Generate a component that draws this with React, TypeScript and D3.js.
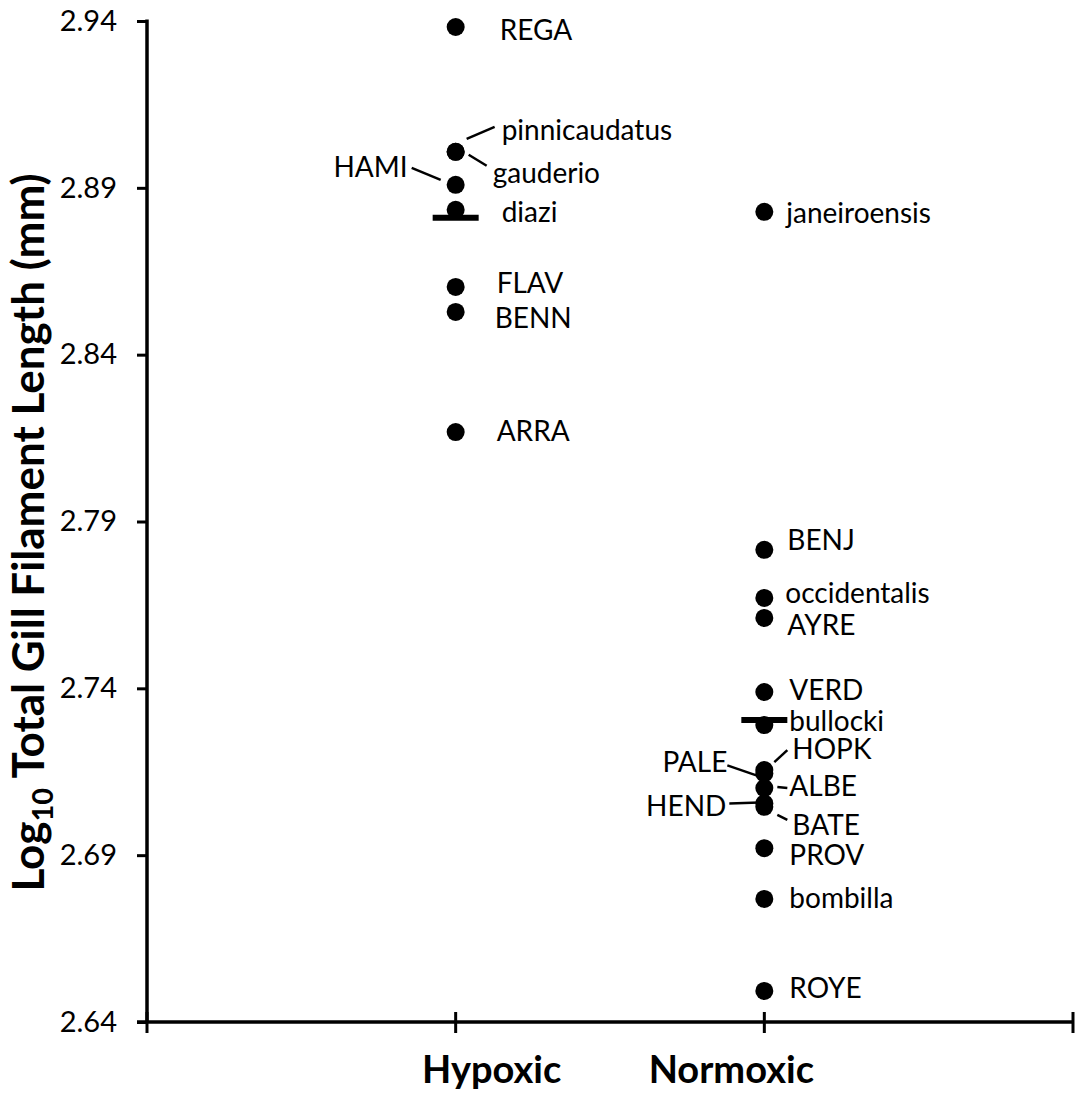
import { useEffect, useRef } from 'react';
import * as d3 from 'd3';

const groups = ['Hypoxic', 'Normoxic'];
const yTicks = [2.64, 2.69, 2.74, 2.79, 2.84, 2.89, 2.94];

const hypoxicNames = ['REGA', 'pinnicaudatus', 'gauderio', 'HAMI', 'diazi', 'FLAV', 'BENN', 'ARRA'];
const hypoxicValues = [2.9382, 2.9008, 2.9008, 2.8909, 2.8834, 2.8603, 2.8528, 2.8168];

const normoxicNames = ['janeiroensis', 'BENJ', 'occidentalis', 'AYRE', 'VERD', 'bullocki', 'HOPK', 'PALE', 'ALBE', 'HEND', 'BATE', 'PROV', 'bombilla', 'ROYE'];
const normoxicValues = [2.8828, 2.7815, 2.7671, 2.7611, 2.7389, 2.729, 2.7155, 2.7145, 2.7101, 2.7055, 2.7045, 2.6921, 2.6769, 2.6493];

const groupMeans = [2.881, 2.7305];

// label placement relative to its dot: side, dx, dy, optional leader line
const labelLayout = {
  REGA: ['right', 44, 3],
  pinnicaudatus: ['right', 46, -22, [11, -13, 39, -25]],
  gauderio: ['right', 37, 21, [13, 3, 31, 14]],
  HAMI: ['left', -48, -18, [-44, -17, -15, -5]],
  diazi: ['right', 46, 2],
  FLAV: ['right', 41, -4],
  BENN: ['right', 39, 6],
  ARRA: ['right', 41, -1],
  janeiroensis: ['right', 22, 1],
  BENJ: ['right', 23, -10],
  occidentalis: ['right', 21, -5],
  AYRE: ['right', 23, 7],
  VERD: ['right', 25, -2],
  bullocki: ['right', 25, -4],
  HOPK: ['right', 28, -21, [10, -8, 23, -20]],
  PALE: ['left', -37, -11, [-37, -8, -8, 2]],
  ALBE: ['right', 25, -2, [13, -1, 23, 0]],
  HEND: ['left', -38, 2, [-35, 0, -5, -1]],
  BATE: ['right', 28, 18, [13, 8, 23, 13]],
  PROV: ['right', 25, 7],
  bombilla: ['right', 25, -1],
  ROYE: ['right', 25, -3]
};

const FONT = 'Lato, "Open Sans", sans-serif';

export default function App() {
  const ref = useRef(null);

  useEffect(() => {
    if (!ref.current) return;
    d3.select(ref.current).selectAll('*').remove();

    const W = 1078;
    const H = 1093;
    const margin = { top: 21, right: 5, bottom: 71, left: 147 };

    const svg = d3.select(ref.current)
      .append('svg')
      .attr('width', W)
      .attr('height', H)
      .style('position', 'absolute')
      .style('left', 0)
      .style('top', 0)
      .style('background', '#fff');

    const x = d3.scaleLinear().domain([0, 3]).range([margin.left, W - margin.right]);
    const y = d3.scaleLinear().domain([2.64, 2.94]).range([H - margin.bottom, margin.top]);

    const points = [
      ...hypoxicNames.map((n, i) => ({ name: n, g: 1, v: hypoxicValues[i] })),
      ...normoxicNames.map((n, i) => ({ name: n, g: 2, v: normoxicValues[i] }))
    ];

    // Axes
    const yAxis = svg.append('g')
      .attr('transform', `translate(${margin.left},0)`)
      .call(d3.axisLeft(y).tickValues(yTicks).tickFormat(d3.format('.2f')).tickSize(10).tickPadding(20));
    yAxis.select('.domain').attr('stroke', '#000').attr('stroke-width', 3.5).attr('d', `M0,${y(2.94) - 1.5}V${y(2.64)}`);
    yAxis.selectAll('.tick line').attr('stroke', '#000').attr('stroke-width', 3);
    yAxis.selectAll('.tick text')
      .attr('fill', '#000')
      .style('font-family', FONT)
      .style('font-size', '29px');

    const xAxis = svg.append('g').attr('transform', `translate(0,${y(2.64)})`);
    xAxis.append('line')
      .attr('x1', x(0) - 10)
      .attr('x2', x(3))
      .attr('stroke', '#000')
      .attr('stroke-width', 3.5);
    xAxis.selectAll('.xt')
      .data([0, 1, 2, 3])
      .enter()
      .append('line')
      .attr('x1', d => x(d))
      .attr('x2', d => x(d))
      .attr('y1', -10)
      .attr('y2', 11)
      .attr('stroke', '#000')
      .attr('stroke-width', 3);

    // category labels (offset like the original text boxes)
    const catOffsets = [36, -33];
    xAxis.selectAll('.cat')
      .data(groups)
      .enter()
      .append('text')
      .attr('x', (d, i) => x(i + 1) + catOffsets[i])
      .attr('y', 61)
      .attr('text-anchor', 'middle')
      .style('font-family', FONT)
      .style('font-weight', 'bold')
      .style('font-size', '38px')
      .text(d => d);

    // y title
    const title = svg.append('text')
      .attr('transform', `translate(44,${(y(2.64) + y(2.94)) / 2 + 11}) rotate(-90)`)
      .attr('text-anchor', 'middle')
      .style('font-family', FONT)
      .style('font-weight', 'bold')
      .style('font-size', '44px');
    title.append('tspan').text('Log');
    title.append('tspan').attr('dy', 9).style('font-size', '29px').text('10');
    title.append('tspan').attr('dy', -9).text(' Total Gill Filament Length (mm)');

    // leader lines
    const g = svg.append('g');
    points.forEach(p => {
      const lay = labelLayout[p.name];
      const cx = x(p.g);
      const cy = y(p.v);
      if (lay[3]) {
        const l = lay[3];
        g.append('line')
          .attr('x1', cx + l[0]).attr('y1', cy + l[1])
          .attr('x2', cx + l[2]).attr('y2', cy + l[3])
          .attr('stroke', '#000')
          .attr('stroke-width', 2.5);
      }
    });

    // points
    g.selectAll('.dot')
      .data(points)
      .enter()
      .append('circle')
      .attr('cx', d => x(d.g))
      .attr('cy', d => y(d.v))
      .attr('r', 9)
      .attr('fill', '#000');

    // group means
    g.selectAll('.mean')
      .data(groupMeans)
      .enter()
      .append('line')
      .attr('x1', (d, i) => x(i + 1) - 23)
      .attr('x2', (d, i) => x(i + 1) + 23)
      .attr('y1', d => y(d))
      .attr('y2', d => y(d))
      .attr('stroke', '#000')
      .attr('stroke-width', 6);

    // labels
    g.selectAll('.lbl')
      .data(points)
      .enter()
      .append('text')
      .attr('x', d => x(d.g) + labelLayout[d.name][1])
      .attr('y', d => y(d.v) + labelLayout[d.name][2])
      .attr('dy', '0.36em')
      .attr('text-anchor', d => (labelLayout[d.name][0] === 'left' ? 'end' : 'start'))
      .style('font-family', FONT)
      .style('font-size', '28px')
      .attr('fill', '#000')
      .text(d => d.name);
  }, []);

  return <div ref={ref} />;
}
